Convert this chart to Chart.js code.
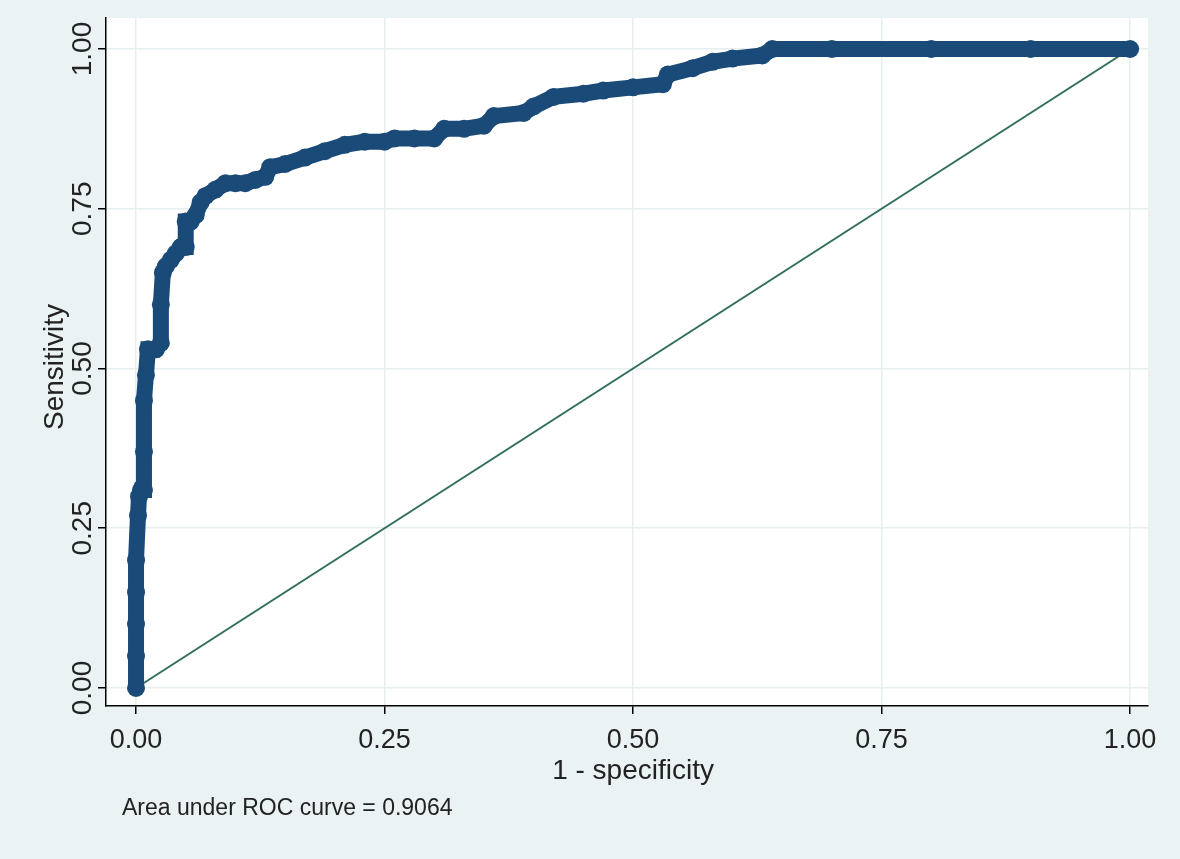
<!DOCTYPE html>
<html><head><meta charset="utf-8">
<script src="https://cdn.jsdelivr.net/npm/chart.js@4"></script>
<style>html,body{margin:0;padding:0;background:#eaf2f3;}#w{width:1180px;height:859px;}</style>
</head><body><div id="w"><canvas id="c"></canvas></div>
<script>
const rocX = [0,0,0,0,0,0.002,0.003,0.005,0.008,0.008,0.008,0.010,0.012,0.020,0.025,0.025,0.027,0.030,0.035,0.040,0.045,0.050,0.050,0.055,0.060,0.065,0.070,0.080,0.090,0.100,0.110,0.120,0.130,0.135,0.150,0.170,0.190,0.210,0.230,0.250,0.260,0.280,0.300,0.310,0.330,0.350,0.360,0.390,0.400,0.420,0.450,0.470,0.500,0.530,0.535,0.560,0.580,0.600,0.630,0.640,0.700,0.800,0.900,1.000];
const rocY = [0,0.05,0.10,0.15,0.20,0.27,0.30,0.31,0.31,0.37,0.45,0.49,0.53,0.53,0.54,0.60,0.65,0.66,0.67,0.68,0.69,0.69,0.73,0.73,0.74,0.76,0.77,0.78,0.79,0.79,0.79,0.795,0.80,0.815,0.82,0.83,0.84,0.85,0.855,0.855,0.86,0.86,0.86,0.875,0.875,0.88,0.895,0.90,0.91,0.925,0.93,0.935,0.94,0.945,0.96,0.97,0.98,0.985,0.99,1,1,1,1,1];
const refX = [0,1];
const refY = [0,1];
const tickVals = [0,0.25,0.5,0.75,1];
const tickLabels = ["0.00","0.25","0.50","0.75","1.00"];
const xTitle = "1 - specificity";
const yTitle = "Sensitivity";
const note = "Area under ROC curve = 0.9064";

const FONT = "'Liberation Sans', Arial, sans-serif";
const bgPlugin = {
  id:'bg',
  beforeDraw(ch){
    const c=ch.ctx, a=ch.chartArea;
    c.save();c.fillStyle='#eaf2f3';c.fillRect(0,0,ch.width,ch.height);
    c.fillStyle='#ffffff';c.fillRect(a.left,a.top,a.right-a.left,a.bottom-a.top);c.restore();
  },
  afterDraw(ch){
    const c=ch.ctx, y=ch.scales.y, x=ch.scales.x;
    c.save();c.fillStyle='#222';c.font='28px '+FONT;c.textAlign='center';c.textBaseline='middle';
    tickVals.forEach((v,i)=>{const py=y.getPixelForValue(v);c.save();c.translate(83,py);c.rotate(-Math.PI/2);c.fillText(tickLabels[i],0,0);c.restore();});
    c.save();c.translate(55,367);c.rotate(-Math.PI/2);c.font='28px '+FONT;c.fillText(yTitle,0,0);c.restore();
    c.font='28px '+FONT;c.fillText(xTitle,(x.getPixelForValue(0)+x.getPixelForValue(1))/2,771);
    c.textAlign='left';c.font='23px '+FONT;c.fillText(note,122,809);
    c.restore();
  }
};
const ticksCb = s => { s.ticks = tickVals.map(v=>({value:v})); };
new Chart(document.getElementById('c'),{
  type:'scatter',
  data:{datasets:[
    {data:refX.map((x,i)=>({x,y:refY[i]})),showLine:true,borderColor:'#2f6e5c',borderWidth:2,pointRadius:0,order:2},
    {data:rocX.map((x,i)=>({x,y:rocY[i]})),showLine:true,borderColor:'#1a4a78',backgroundColor:'#1a4a78',borderWidth:16,pointRadius:9,pointBorderWidth:0,order:1}
  ]},
  plugins:[bgPlugin],
  options:{
    responsive:true,maintainAspectRatio:false,animation:false,
    layout:{padding:{top:18,right:32,left:0,bottom:0}},
    plugins:{legend:{display:false},tooltip:{enabled:false}},
    scales:{
      x:{type:'linear',min:-0.0302,max:1.018,afterBuildTicks:ticksCb,
        afterFit(s){s.height=153;},
        border:{color:'#000',width:1.5},
        grid:{color:'#e6eeef',lineWidth:1.5,tickLength:8,tickColor:'#000'},
        ticks:{color:'#222',font:{family:FONT,size:27},padding:10,callback:v=>tickLabels[tickVals.indexOf(v)]}},
      y:{type:'linear',min:-0.0282,max:1.0485,afterBuildTicks:ticksCb,
        afterFit(s){s.width=106;},
        border:{color:'#000',width:1.5},
        grid:{color:'#e6eeef',lineWidth:1.5,tickLength:8,tickColor:'#000'},
        ticks:{display:true,color:'rgba(0,0,0,0)',callback:()=>''}}
    }
  }
});
</script></body></html>
